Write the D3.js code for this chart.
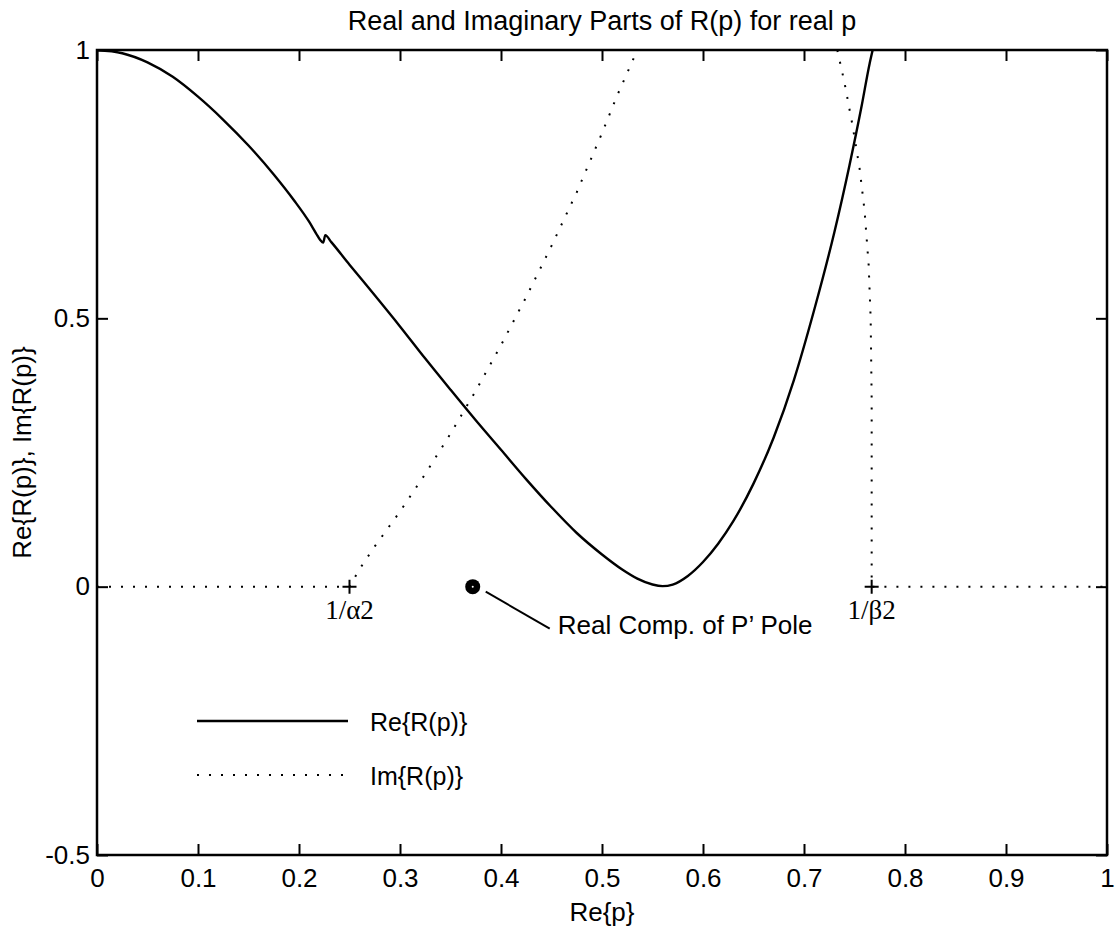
<!DOCTYPE html>
<html>
<head>
<meta charset="utf-8">
<script src="https://cdn.jsdelivr.net/npm/d3@7"></script>
<style>
  body { margin: 0; background: #fff; }
  text { font-family: "Liberation Sans", Arial, sans-serif; fill: #000; }
  .serif { font-family: "Liberation Serif", "Times New Roman", serif; }
</style>
</head>
<body>
<script>
// values
var reX = [0, 0.025, 0.05, 0.075, 0.1, 0.125, 0.15, 0.175, 0.195, 0.21, 0.217, 0.221, 0.224, 0.226, 0.232, 0.25, 0.275, 0.3, 0.325, 0.35, 0.375, 0.4, 0.425, 0.45, 0.475, 0.5, 0.52, 0.535, 0.55, 0.56, 0.57, 0.585, 0.6, 0.615, 0.63, 0.65, 0.67, 0.69, 0.71, 0.73, 0.745, 0.757, 0.765, 0.768];
var reY = [1, 0.994, 0.977, 0.95, 0.913, 0.87, 0.822, 0.768, 0.72, 0.68, 0.658, 0.646, 0.641, 0.655, 0.642, 0.6, 0.543, 0.485, 0.425, 0.367, 0.31, 0.255, 0.2, 0.148, 0.1, 0.06, 0.032, 0.015, 0.004, 0.001, 0.004, 0.02, 0.046, 0.08, 0.122, 0.192, 0.278, 0.385, 0.515, 0.66, 0.785, 0.895, 0.975, 1.0];

// imaginary part, left branch (runs up to the top edge) and right branch (comes back down)
var imLeftX = [0, 0.25, 0.26, 0.275, 0.3, 0.325, 0.35, 0.375, 0.4, 0.425, 0.45, 0.475, 0.5, 0.515, 0.535];
var imLeftY = [0, 0, 0.033, 0.075, 0.14, 0.21, 0.285, 0.365, 0.45, 0.54, 0.635, 0.735, 0.845, 0.915, 1.0];
var imRightX = [0.733, 0.74, 0.748, 0.755, 0.76, 0.764, 0.766, 0.767, 0.767, 1];
var imRightY = [1.0, 0.94, 0.86, 0.78, 0.7, 0.6, 0.5, 0.35, 0, 0];

var xTicks = [0, 0.1, 0.2, 0.3, 0.4, 0.5, 0.6, 0.7, 0.8, 0.9, 1];
var yTicks = [-0.5, 0, 0.5, 1];

// marked points on the p axis
var alpha2 = 0.25, beta2 = 0.767, poleRe = 0.372;

var margin = {top: 50, right: 8, bottom: 73, left: 97},
    width = 1115 - margin.left - margin.right,
    height = 928 - margin.top - margin.bottom;

var x = d3.scaleLinear().domain([0, 1]).range([0, width]);
var y = d3.scaleLinear().domain([-0.5, 1]).range([height, 0]);

var svg = d3.select("body").append("svg")
    .attr("width", 1115)
    .attr("height", 928)
  .append("g")
    .attr("transform", "translate(" + margin.left + "," + margin.top + ")");

svg.append("defs").append("clipPath").attr("id", "clip")
  .append("rect").attr("width", width).attr("height", height);

// curves
var reLine = d3.line()
    .x(function(d) { return x(d[0]); })
    .y(function(d) { return y(d[1]); })
    .curve(d3.curveMonotoneX);
var imLine = d3.line()
    .x(function(d) { return x(d[0]); })
    .y(function(d) { return y(d[1]); });

var plot = svg.append("g").attr("clip-path", "url(#clip)");

plot.append("path")
    .datum(d3.zip(reX, reY))
    .attr("d", reLine)
    .attr("fill", "none")
    .attr("stroke", "#000")
    .attr("stroke-width", 2.4);

[d3.zip(imLeftX, imLeftY), d3.zip(imRightX, imRightY)].forEach(function(pts) {
  plot.append("path")
      .datum(pts)
      .attr("d", imLine)
      .attr("fill", "none")
      .attr("stroke", "#000")
      .attr("stroke-width", 2)
      .attr("stroke-dasharray", "2,10");
});

// frame and ticks (inward, on all four sides)
svg.append("rect")
    .attr("width", width).attr("height", height)
    .attr("fill", "none").attr("stroke", "#000").attr("stroke-width", 2.5);

var tl = 11;
var fmt = function(d) { return String(d); };
svg.append("g").attr("class", "xb").attr("transform", "translate(0," + height + ")")
    .call(d3.axisBottom(x).tickValues(xTicks).tickSize(-tl).tickFormat(fmt))
    .call(function(g) { g.select(".domain").remove(); });
svg.append("g")
    .call(d3.axisTop(x).tickValues(xTicks).tickSize(-tl).tickFormat(""))
    .call(function(g) { g.select(".domain").remove(); });
svg.append("g").attr("class", "yl")
    .call(d3.axisLeft(y).tickValues(yTicks).tickSize(-tl).tickFormat(fmt))
    .call(function(g) { g.select(".domain").remove(); });
svg.append("g").attr("transform", "translate(" + width + ",0)")
    .call(d3.axisRight(y).tickValues(yTicks).tickSize(-tl).tickFormat(""))
    .call(function(g) { g.select(".domain").remove(); });

svg.selectAll(".tick line").attr("stroke", "#000").attr("stroke-width", 2);
svg.selectAll(".tick text")
    .attr("font-family", "Liberation Sans, Arial, sans-serif")
    .attr("font-size", 26);
svg.selectAll(".xb .tick text").attr("y", 14).attr("dy", "0.71em");
svg.selectAll(".yl .tick text").attr("x", -7);

// +-markers and their labels
[[alpha2, "1/\u03b12"], [beta2, "1/\u03b22"]].forEach(function(m) {
  var cx = x(m[0]), cy = y(0);
  svg.append("path")
      .attr("d", "M" + (cx - 7) + "," + cy + "H" + (cx + 7) + "M" + cx + "," + (cy - 7) + "V" + (cy + 7))
      .attr("stroke", "#000").attr("stroke-width", 2);
  svg.append("text").attr("class", "serif")
      .attr("x", cx).attr("y", cy + 32)
      .attr("text-anchor", "middle")
      .attr("font-size", 27)
      .text(m[1]);
});

// pole marker with leader line
svg.append("circle").attr("cx", x(poleRe)).attr("cy", y(0)).attr("r", 7.5).attr("fill", "#000");
svg.append("circle").attr("cx", x(poleRe)).attr("cy", y(0)).attr("r", 1).attr("fill", "#fff");
svg.append("line")
    .attr("x1", x(poleRe) + 13).attr("y1", y(0) + 5)
    .attr("x2", x(poleRe) + 77).attr("y2", y(0) + 42)
    .attr("stroke", "#000").attr("stroke-width", 2);
svg.append("text")
    .attr("x", x(poleRe) + 85).attr("y", y(0) + 47)
    .attr("font-size", 26)
    .text("Real Comp. of P\u2019 Pole");

// legend
var legend = svg.append("g").attr("transform", "translate(100,671)");
legend.append("line").attr("x1", 0).attr("x2", 151).attr("y1", 0).attr("y2", 0)
    .attr("stroke", "#000").attr("stroke-width", 2.4);
legend.append("text").attr("x", 173).attr("y", 10).attr("font-size", 25).text("Re{R(p)}");
legend.append("line").attr("x1", 0).attr("x2", 151).attr("y1", 54).attr("y2", 54)
    .attr("stroke", "#000").attr("stroke-width", 2).attr("stroke-dasharray", "2,10");
legend.append("text").attr("x", 173).attr("y", 64).attr("font-size", 25).text("Im{R(p)}");

// titles
svg.append("text")
    .attr("x", width / 2).attr("y", -20)
    .attr("text-anchor", "middle").attr("font-size", 27)
    .text("Real and Imaginary Parts of R(p) for real p");
svg.append("text")
    .attr("x", width / 2).attr("y", height + 66)
    .attr("text-anchor", "middle").attr("font-size", 26)
    .text("Re{p}");
svg.append("text")
    .attr("transform", "translate(-66," + (height / 2) + ") rotate(-90)")
    .attr("text-anchor", "middle").attr("font-size", 26)
    .text("Re{R(p)}, Im{R(p)}");
</script>
</body>
</html>
